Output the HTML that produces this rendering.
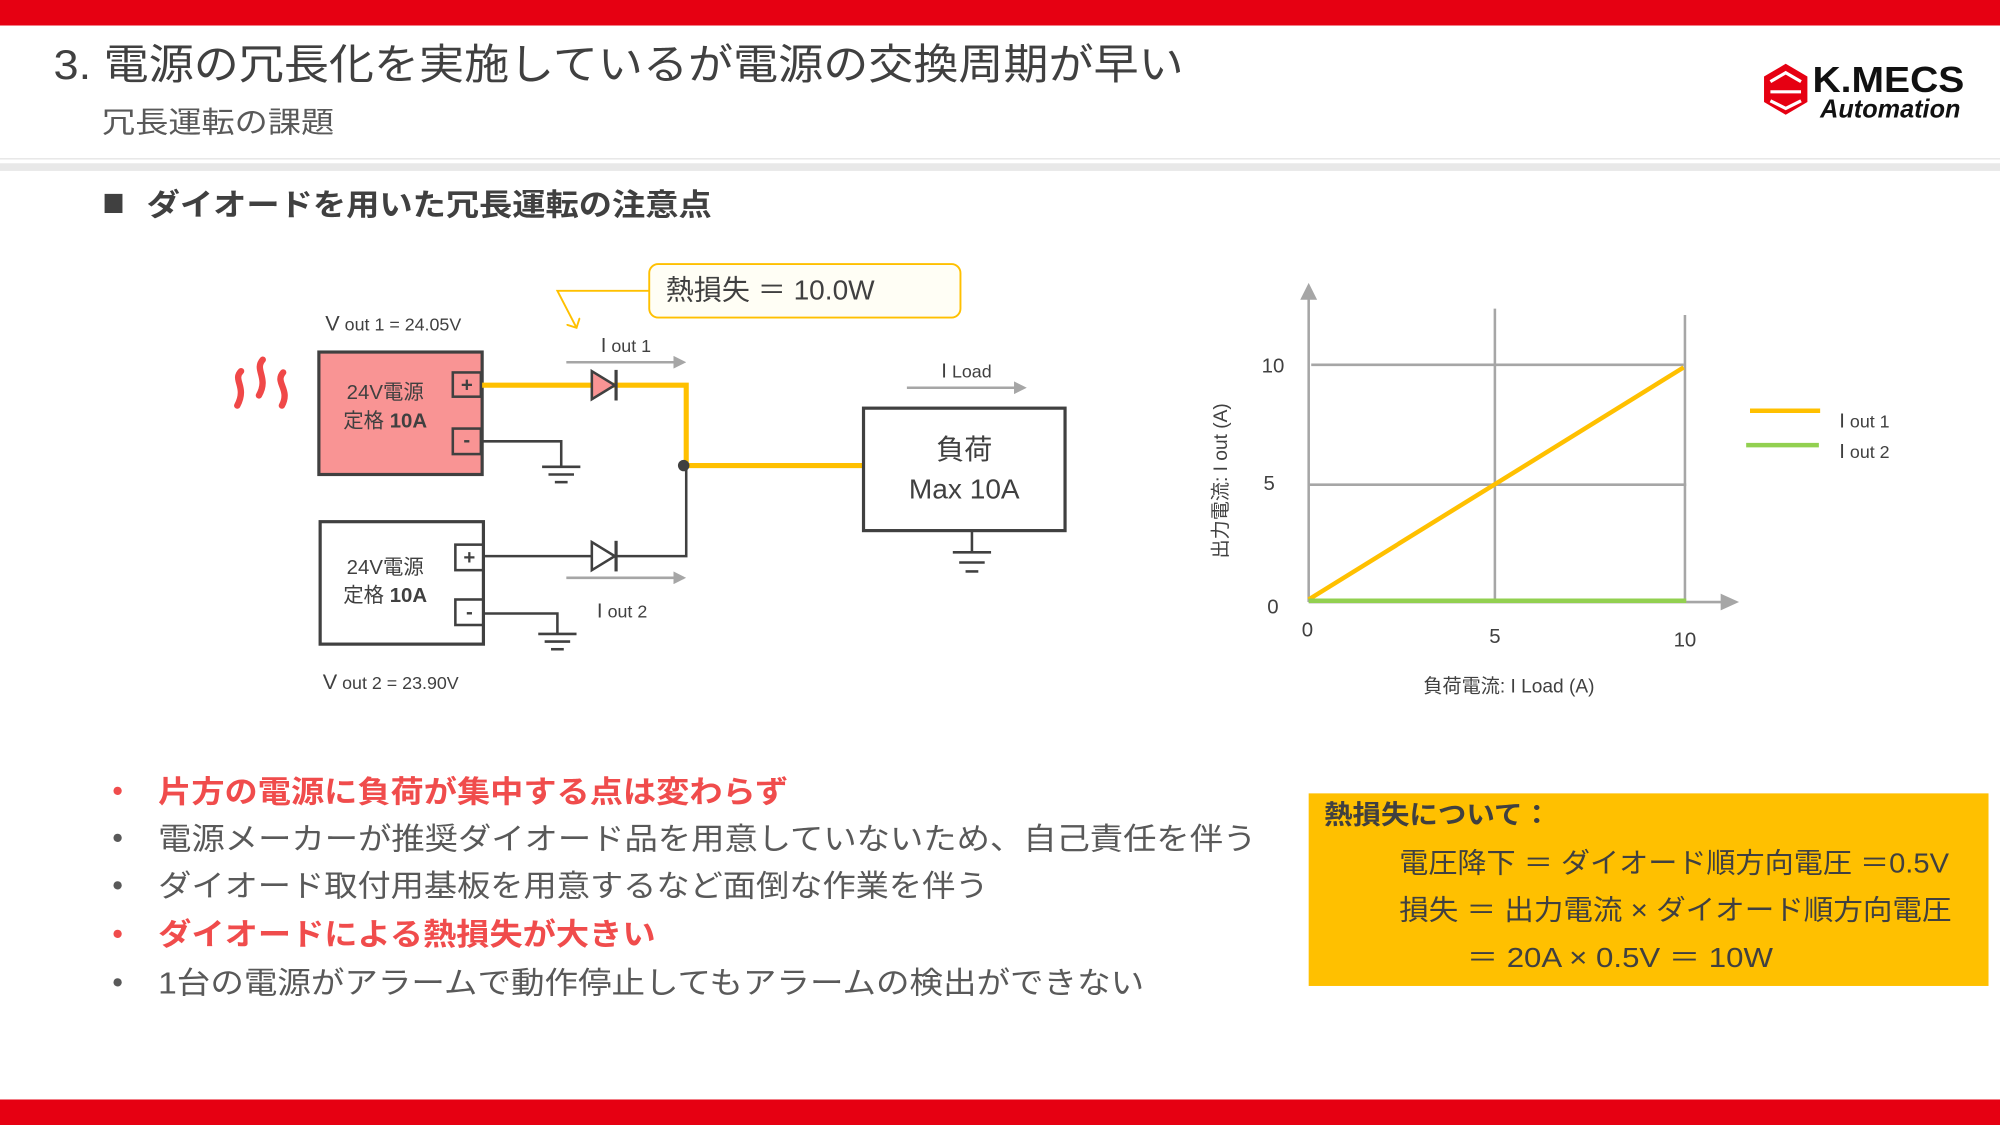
<!DOCTYPE html>
<html><head><meta charset="utf-8"><style>
html,body{margin:0;padding:0;background:#fff;}
svg{display:block}
text{font-family:"Liberation Sans","Noto Sans CJK JP",sans-serif;}
</style></head><body>
<svg width="2000" height="1125" viewBox="0 0 1568 882" xmlns="http://www.w3.org/2000/svg">
<defs>
<marker id="ga" markerWidth="10" markerHeight="10" refX="8" refY="5" orient="auto" markerUnits="userSpaceOnUse"><path d="M0,0 L10,5 L0,10 z" fill="#a6a6a6"/></marker>
<marker id="ya" markerWidth="12" markerHeight="12" refX="6" refY="6" orient="auto" markerUnits="userSpaceOnUse"><path d="M0,0 L6,6 L0,12" fill="none" stroke="#ffc000" stroke-width="1.5"/></marker>
</defs>
<rect x="0" y="0" width="1568" height="20" fill="#e60012"/>
<rect x="0" y="862" width="1568" height="20" fill="#e60012"/>
<text x="42" y="62" font-size="33" fill="#404040" textLength="886" lengthAdjust="spacingAndGlyphs">3. 電源の冗長化を実施しているが電源の交換周期が早い</text>
<text x="80" y="104" font-size="23" fill="#595959" textLength="182" lengthAdjust="spacingAndGlyphs">冗長運転の課題</text>
<line x1="0" y1="124.5" x2="1568" y2="124.5" stroke="#e4e4e4" stroke-width="1"/>
<rect x="0" y="128" width="1568" height="6" fill="#e8e8e8"/>
<!-- logo -->
<g>
<path d="M1383,60 L1400,50 L1417,60 L1417,80 L1400,90 L1383,80z" fill="#e60012"/>
<path d="M1388,64 L1400,57 L1412,64 M1388,72 L1412,72 M1388,79 L1400,85 L1412,79" stroke="#fff" stroke-width="2.5" fill="none"/>
<text x="1421" y="72" font-size="28" font-weight="bold" fill="#111" textLength="119" lengthAdjust="spacingAndGlyphs">K.MECS</text>
<text x="1427" y="92" font-size="20" font-style="italic" font-weight="bold" fill="#111" textLength="110" lengthAdjust="spacingAndGlyphs">Automation</text>
</g>
<rect x="82" y="152" width="14" height="15" fill="#404040"/>
<text x="115" y="169" font-size="24" font-weight="bold" fill="#404040" textLength="443" lengthAdjust="spacingAndGlyphs">ダイオードを用いた冗長運転の注意点</text>

<!-- heat marks -->
<g stroke="#f04848" stroke-width="5" fill="none" stroke-linecap="round">
<path d="M189,291 C182,298 194,303 186,318"/>
<path d="M206,282 C199,290 211,296 203,310"/>
<path d="M222,292 C215,300 228,305 221,318"/>
</g>

<!-- callout -->
<rect x="509" y="207" width="244" height="42" rx="7" fill="#fffef5" stroke="#ffc000" stroke-width="1.5"/>
<text x="522" y="235" font-size="22" fill="#404040">熱損失 ＝ 10.0W</text>
<polyline points="509,228 437,228 452,257" fill="none" stroke="#ffc000" stroke-width="1.5" marker-end="url(#ya)"/>

<!-- labels -->
<text x="255" y="259" font-size="17" fill="#404040">V<tspan font-size="14"> out 1 = 24.05V</tspan></text>
<text x="253" y="540" font-size="17" fill="#404040">V<tspan font-size="14"> out 2 = 23.90V</tspan></text>
<text x="471" y="276" font-size="16" fill="#404040">I<tspan font-size="14"> out 1</tspan></text>
<text x="468" y="484" font-size="16" fill="#404040">I<tspan font-size="14"> out 2</tspan></text>
<text x="738" y="296" font-size="16" fill="#404040">I<tspan font-size="14"> Load</tspan></text>
<line x1="444" y1="284" x2="536" y2="284" stroke="#a6a6a6" stroke-width="2" marker-end="url(#ga)"/>
<line x1="444" y1="453" x2="536" y2="453" stroke="#a6a6a6" stroke-width="2" marker-end="url(#ga)"/>
<line x1="711" y1="304" x2="803" y2="304" stroke="#a6a6a6" stroke-width="2" marker-end="url(#ga)"/>

<!-- PS1 -->
<rect x="250" y="276" width="128" height="96" fill="#f99494" stroke="#404040" stroke-width="2.5"/>
<text x="302" y="313" font-size="16" fill="#404040" text-anchor="middle">24V電源</text>
<text x="302" y="335" font-size="16" fill="#404040" text-anchor="middle">定格 <tspan font-weight="bold">10A</tspan></text>
<rect x="355" y="292" width="22" height="19" fill="none" stroke="#404040" stroke-width="2"/>
<text x="366" y="307" font-size="16" font-weight="bold" fill="#404040" text-anchor="middle">+</text>
<rect x="355" y="336" width="22" height="20" fill="none" stroke="#404040" stroke-width="2"/>
<text x="366" y="350" font-size="16" font-weight="bold" fill="#404040" text-anchor="middle">-</text>

<!-- PS2 -->
<rect x="251" y="409" width="128" height="96" fill="#fff" stroke="#404040" stroke-width="2.5"/>
<text x="302" y="450" font-size="16" fill="#404040" text-anchor="middle">24V電源</text>
<text x="302" y="472" font-size="16" fill="#404040" text-anchor="middle">定格 <tspan font-weight="bold">10A</tspan></text>
<rect x="357" y="427" width="22" height="20" fill="none" stroke="#404040" stroke-width="2"/>
<text x="368" y="442" font-size="16" font-weight="bold" fill="#404040" text-anchor="middle">+</text>
<rect x="357" y="470" width="22" height="20" fill="none" stroke="#404040" stroke-width="2"/>
<text x="368" y="485" font-size="16" font-weight="bold" fill="#404040" text-anchor="middle">-</text>

<!-- wires -->
<g stroke="#404040" stroke-width="2" fill="none">
<polyline points="379,436 538,436 538,365"/>
<polyline points="378,346 440,346 440,366"/>
<line x1="425" y1="366" x2="455" y2="366"/><line x1="430" y1="372" x2="450" y2="372"/><line x1="435" y1="378" x2="445" y2="378"/>
<polyline points="379,481 437,481 437,497"/>
<line x1="422" y1="497" x2="452" y2="497"/><line x1="427" y1="503" x2="447" y2="503"/><line x1="432" y1="509" x2="442" y2="509"/>
<line x1="762" y1="416" x2="762" y2="433"/>
<line x1="747" y1="433" x2="777" y2="433"/><line x1="752" y1="441" x2="772" y2="441"/><line x1="757" y1="448" x2="767" y2="448"/>
</g>
<polyline points="378,302 538,302 538,365 677,365" fill="none" stroke="#ffc000" stroke-width="4"/>
<circle cx="536" cy="365" r="4.5" fill="#404040"/>
<!-- diodes -->
<path d="M464,291 L482,302 L464,313z" fill="#f99494" stroke="#404040" stroke-width="2"/>
<line x1="483" y1="290" x2="483" y2="314" stroke="#404040" stroke-width="2.5"/>
<path d="M464,425 L482,436 L464,447z" fill="#fff" stroke="#404040" stroke-width="2"/>
<line x1="483" y1="424" x2="483" y2="448" stroke="#404040" stroke-width="2.5"/>

<!-- load -->
<rect x="677" y="320" width="158" height="96" fill="#fff" stroke="#404040" stroke-width="2.5"/>
<text x="756" y="360" font-size="22" fill="#404040" text-anchor="middle">負荷</text>
<text x="756" y="391" font-size="22" fill="#404040" text-anchor="middle">Max 10A</text>

<!-- chart -->
<g stroke="#a6a6a6" stroke-width="2" fill="none">
<line x1="1026" y1="472" x2="1026" y2="232"/>
<path d="M1021,234 L1026,224 L1031,234z" fill="#a6a6a6"/>
<line x1="1026" y1="472" x2="1352" y2="472"/>
<path d="M1350,467 L1361,472 L1350,477z" fill="#a6a6a6"/>
<line x1="1028" y1="286" x2="1320" y2="286"/>
<line x1="1026" y1="380" x2="1322" y2="380"/>
<line x1="1172" y1="242" x2="1172" y2="472"/>
<line x1="1321" y1="247" x2="1321" y2="472"/>
</g>
<line x1="1026" y1="470" x2="1320" y2="288" stroke="#ffc000" stroke-width="3.5"/>
<line x1="1026" y1="471" x2="1322" y2="471" stroke="#92d050" stroke-width="3.5"/>
<g font-size="16" fill="#404040" text-anchor="middle">
<text x="998" y="292">10</text><text x="995" y="384">5</text><text x="998" y="481">0</text>
<text x="1025" y="499">0</text><text x="1172" y="504">5</text><text x="1321" y="507">10</text>
</g>
<text x="0" y="0" font-size="15" fill="#404040" text-anchor="middle" transform="translate(962,377) rotate(-90)">出力電流: I out (A)</text>
<text x="1183" y="543" font-size="15" fill="#404040" text-anchor="middle">負荷電流: I Load (A)</text>
<line x1="1372" y1="322" x2="1427" y2="322" stroke="#ffc000" stroke-width="3.5"/>
<line x1="1369" y1="349" x2="1426" y2="349" stroke="#92d050" stroke-width="3.5"/>
<text x="1442" y="335" font-size="16" fill="#404040">I<tspan font-size="14"> out 1</tspan></text>
<text x="1442" y="359" font-size="16" fill="#404040">I<tspan font-size="14"> out 2</tspan></text>

<!-- bullets -->
<g font-size="24">
<text x="88" y="628" fill="#f04c4c">•</text>
<text x="124" y="629" fill="#f04c4c" font-weight="bold" textLength="494" lengthAdjust="spacingAndGlyphs">片方の電源に負荷が集中する点は変わらず</text>
<text x="88" y="665" fill="#595959">•</text>
<text x="124" y="666" fill="#595959" textLength="861" lengthAdjust="spacingAndGlyphs">電源メーカーが推奨ダイオード品を用意していないため、自己責任を伴う</text>
<text x="88" y="702" fill="#595959">•</text>
<text x="124" y="703" fill="#595959" textLength="651" lengthAdjust="spacingAndGlyphs">ダイオード取付用基板を用意するなど面倒な作業を伴う</text>
<text x="88" y="740" fill="#f04c4c">•</text>
<text x="124" y="741" fill="#f04c4c" font-weight="bold" textLength="390" lengthAdjust="spacingAndGlyphs">ダイオードによる熱損失が大きい</text>
<text x="88" y="778" fill="#595959">•</text>
<text x="124" y="779" fill="#595959" textLength="773" lengthAdjust="spacingAndGlyphs">1台の電源がアラームで動作停止してもアラームの検出ができない</text>
</g>

<!-- info box -->
<rect x="1026" y="622" width="533" height="151" fill="#ffc000"/>
<text x="1038" y="646" font-size="21" font-weight="bold" fill="#404040" textLength="178" lengthAdjust="spacingAndGlyphs">熱損失について：</text>
<text x="1097" y="684" font-size="22" fill="#404040" textLength="431" lengthAdjust="spacingAndGlyphs">電圧降下 ＝ ダイオード順方向電圧 ＝0.5V</text>
<text x="1097" y="721" font-size="22" fill="#404040" textLength="433" lengthAdjust="spacingAndGlyphs">損失 ＝ 出力電流 × ダイオード順方向電圧</text>
<text x="1150" y="758" font-size="22" fill="#404040" textLength="240" lengthAdjust="spacingAndGlyphs">＝ 20A × 0.5V ＝ 10W</text>
</svg>
</body></html>
